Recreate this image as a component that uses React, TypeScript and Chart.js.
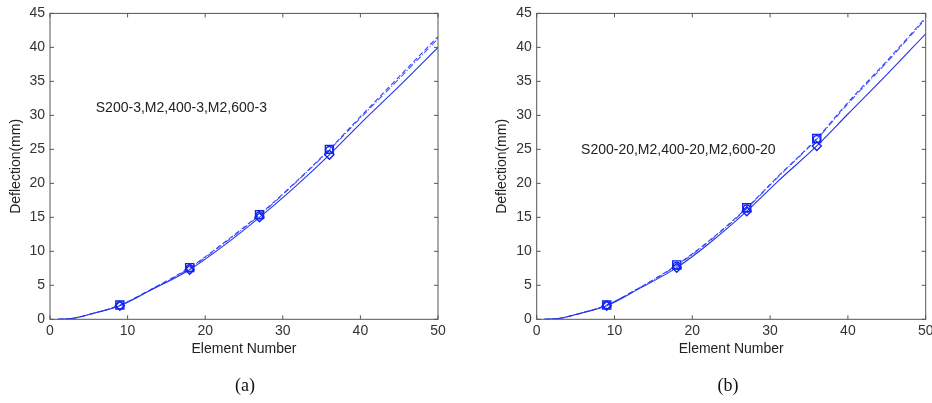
import React, { useEffect, useRef } from 'react';
import { Chart, registerables } from 'chart.js';

Chart.register(...registerables);

// ---- data ----
const elementNumbers = [1, 3, 5, 9, 13, 18, 22, 27, 31, 36, 40, 45, 50];
const markerElements = [9, 18, 27, 36];
const xTickValues = [0, 10, 20, 30, 40, 50];
const yTickValues = [0, 5, 10, 15, 20, 25, 30, 35, 40, 45];

// panel (a)
const s200_3 = [0, 0.15, 0.7, 2.0, 4.3, 7.3, 10.5, 15.0, 18.9, 24.2, 28.8, 34.3, 40.0];
const m2_400_3 = [0, 0.15, 0.7, 2.1, 4.4, 7.6, 10.9, 15.4, 19.5, 25.0, 29.8, 35.7, 41.6];
const m2_600_3 = [0, 0.15, 0.7, 2.05, 4.35, 7.5, 10.8, 15.3, 19.4, 24.9, 29.6, 35.4, 41.3];

// panel (b)
const s200_20 = [0, 0.15, 0.7, 2.0, 4.4, 7.6, 11.0, 15.9, 20.3, 25.5, 30.2, 36.0, 42.0];
const m2_400_20 = [0, 0.15, 0.7, 2.1, 4.5, 8.0, 11.4, 16.4, 21.0, 26.6, 31.9, 38.0, 44.4];
const m2_600_20 = [0, 0.15, 0.7, 2.1, 4.5, 7.9, 11.3, 16.3, 20.9, 26.5, 31.7, 37.8, 44.2];

const xTitle = 'Element Number';
const yTitle = 'Deflection(mm)';
const noteA = 'S200-3,M2,400-3,M2,600-3';
const noteB = 'S200-20,M2,400-20,M2,600-20';

const FONT = '"Liberation Sans", Arial, Helvetica, sans-serif';

const framePlugin = {
  id: 'frame',
  afterDraw(chart: any, _args: any, opts: any) {
    const { ctx, chartArea, scales } = chart;
    const { left, right, top, bottom } = chartArea;
    const x = scales.x;
    const y = scales.y;
    ctx.save();
    ctx.strokeStyle = '#555';
    ctx.lineWidth = 1;
    ctx.strokeRect(left, top, right - left, bottom - top);
    ctx.beginPath();
    xTickValues.forEach((v) => {
      const px = x.getPixelForValue(v);
      ctx.moveTo(px, bottom);
      ctx.lineTo(px, bottom - 4);
      ctx.moveTo(px, top);
      ctx.lineTo(px, top + 4);
    });
    yTickValues.forEach((v) => {
      const py = y.getPixelForValue(v);
      ctx.moveTo(left, py);
      ctx.lineTo(left + 4, py);
      ctx.moveTo(right, py);
      ctx.lineTo(right - 4, py);
    });
    ctx.stroke();

    ctx.fillStyle = '#222';
    ctx.font = '14px ' + FONT;
    ctx.textAlign = 'center';
    ctx.textBaseline = 'middle';
    ctx.fillText(opts.xTitle, (left + right) / 2, bottom + 29.4);
    ctx.save();
    ctx.translate(left - 34.3, (top + bottom) / 2);
    ctx.rotate(-Math.PI / 2);
    ctx.fillText(opts.yTitle, 0, 0);
    ctx.restore();

    ctx.textAlign = 'left';
    ctx.fillText(opts.note, x.getPixelForValue(opts.noteX), y.getPixelForValue(opts.noteY));
    ctx.restore();
  },
};

type PanelProps = {
  series: number[][];
  names: string[];
  note: string;
  noteX: number;
  noteY: number;
  caption: string;
  left: number;
  width: number;
  padLeft: number;
  padRight: number;
  padTop: number;
  captionX: number;
};

const LINE_STYLES = [
  { color: '#2233ee', dash: [] as number[], point: 'rectRot', radius: 4.5 },
  { color: '#3344ff', dash: [5, 3], point: 'rect', radius: 5.7 },
  { color: '#4455ff', dash: [6, 2, 1, 2], point: 'circle', radius: 3.5 },
];

function Panel(p: PanelProps) {
  const ref = useRef<HTMLCanvasElement | null>(null);
  useEffect(() => {
    if (!ref.current) return;
    const datasets = p.series.map((vals, i) => {
      const st = LINE_STYLES[i];
      return {
        label: p.names[i],
        data: elementNumbers.map((x, j) => ({ x, y: vals[j] })),
        borderColor: st.color,
        backgroundColor: 'rgba(0,0,0,0)',
        borderWidth: 1.1,
        borderDash: st.dash,
        pointStyle: st.point,
        pointBorderColor: '#1122ee',
        pointBackgroundColor: 'rgba(0,0,0,0)',
        pointBorderWidth: 1.4,
        pointRadius: (c: any) => (c.raw && markerElements.includes(c.raw.x) ? st.radius : 0),
        cubicInterpolationMode: 'monotone',
        fill: false,
      };
    });
    const chart = new Chart(ref.current, {
      type: 'line',
      data: { datasets } as any,
      options: {
        responsive: false,
        maintainAspectRatio: false,
        animation: false,
        layout: { padding: { left: p.padLeft, right: p.padRight, top: p.padTop, bottom: 53.7 } },
        plugins: {
          legend: { display: false },
          tooltip: { enabled: false },
          frame: { xTitle, yTitle, note: p.note, noteX: p.noteX, noteY: p.noteY },
        } as any,
        scales: {
          x: {
            type: 'linear',
            min: 0,
            max: 50,
            afterFit: (s: any) => { s.height = 30; },
            grid: { display: false, drawTicks: false },
            border: { display: false },
            ticks: { stepSize: 10, padding: 3, color: '#333', font: { size: 14, family: FONT }, maxRotation: 0 },
          },
          y: {
            type: 'linear',
            min: 0,
            max: 45,
            afterFit: (s: any) => { s.width = 50; },
            grid: { display: false, drawTicks: false },
            border: { display: false },
            ticks: { stepSize: 5, padding: 5, color: '#333', font: { size: 14, family: FONT } },
          },
        },
      },
      plugins: [framePlugin as any],
    });
    return () => chart.destroy();
  }, []);
  return (
    <div style={{ position: 'absolute', left: p.left, top: 0, width: p.width, height: 403 }}>
      <canvas ref={ref} width={p.width} height={403} style={{ display: 'block' }} />
      <div
        style={{
          position: 'absolute',
          left: p.captionX - 30,
          width: 60,
          top: 374,
          textAlign: 'center',
          fontFamily: '"Liberation Serif", "Times New Roman", serif',
          fontSize: 18,
          lineHeight: '22px',
          color: '#111',
        }}
      >
        {p.caption}
      </div>
    </div>
  );
}

export default function App() {
  return (
    <div style={{ position: 'fixed', left: 0, top: 0, width: 932, height: 403, overflow: 'hidden', background: '#fff' }}>
      <Panel
        series={[s200_3, m2_400_3, m2_600_3]}
        names={['S200-3', 'M2,400-3', 'M2,600-3']}
        note={noteA}
        noteX={5.9}
        noteY={31.1}
        caption="(a)"
        left={0}
        width={466}
        padLeft={0}
        padRight={28}
        padTop={12.3}
        captionX={245}
      />
      <Panel
        series={[s200_20, m2_400_20, m2_600_20]}
        names={['S200-20', 'M2,400-20', 'M2,600-20']}
        note={noteB}
        noteX={5.7}
        noteY={24.9}
        caption="(b)"
        left={466}
        width={480}
        padLeft={20.7}
        padRight={20.3}
        padTop={9.3}
        captionX={262}
      />
    </div>
  );
}
